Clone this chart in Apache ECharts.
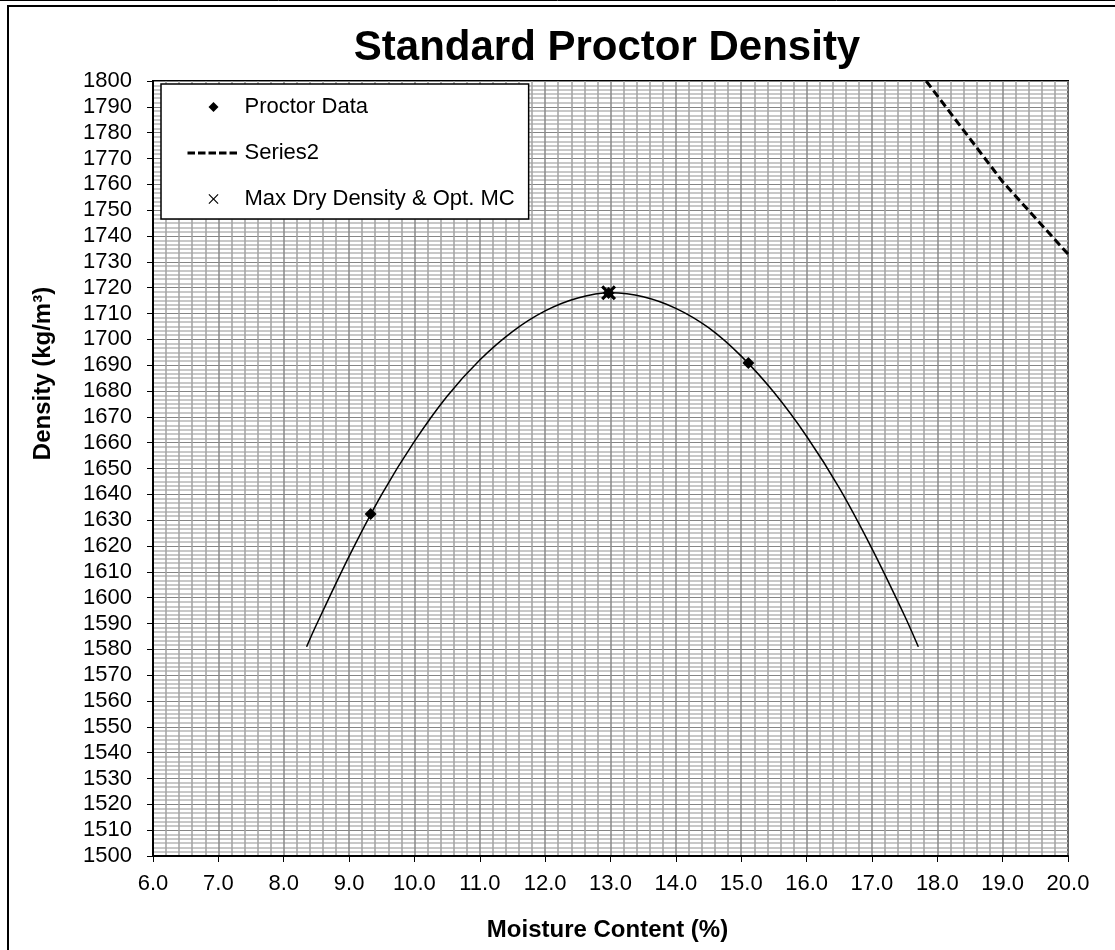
<!DOCTYPE html>
<html><head><meta charset="utf-8">
<script src="https://cdn.jsdelivr.net/npm/echarts@6/dist/echarts.min.js"></script>
<style>html,body{margin:0;padding:0;background:#fff}#c{width:1115px;height:950px}</style>
</head><body><div id="c"></div>
<script>
// ---- data ----
const proctorMC = [9.33, 12.97, 15.11];
const proctorDensity = [1632.4, 1717.9, 1690.8];

const curveMC = [8.35, 8.5, 9.0, 9.5, 10.0, 10.5, 11.0, 11.5, 12.0, 12.5, 13.0, 13.5, 14.0, 14.5, 15.0, 15.5, 16.0, 16.5, 17.0, 17.5, 17.71];
const curveDensity = [1581, 1589.5, 1616, 1640, 1660.5, 1678, 1692, 1703, 1711, 1716, 1718, 1716.5, 1712, 1704.5, 1693.5, 1679.5, 1662.5, 1642.5, 1619, 1593, 1581];

const series2MC = [17.83, 19.0, 20.0];
const series2Density = [1800, 1761, 1733];

const maxMC = [12.97];
const maxDensity = [1718.0];

const xTickMin = 6.0, xTickMax = 20.0, xTickStep = 1.0;
const yTickMin = 1500, yTickMax = 1800, yTickStep = 10;

const titleText = 'Standard Proctor Density';
const xTitle = 'Moisture Content (%)';
const yTitle = 'Density (kg/m\u00b3)';
const legendNames = ['Proctor Data', 'Series2', 'Max Dry Density & Opt. MC'];

// ---- build ----
const zip = (a, b) => a.map((v, i) => [v, b[i]]);
const FONT = '"Liberation Sans", Arial, Helvetica, sans-serif';
const diamondPath = 'path://M5,0 L10,5 L5,10 L0,5 Z';
const crossPath = 'path://M0,1.5 L1.5,0 L5,3.5 L8.5,0 L10,1.5 L6.5,5 L10,8.5 L8.5,10 L5,6.5 L1.5,10 L0,8.5 L3.5,5 Z';
const thinCrossPath = 'path://M0,0.8 L0.8,0 L5,4.2 L9.2,0 L10,0.8 L5.8,5 L10,9.2 L9.2,10 L5,5.8 L0.8,10 L0,9.2 L4.2,5 Z';

const chart = echarts.init(document.getElementById('c'), null, {renderer: 'canvas'});
chart.setOption({
  animation: false,
  backgroundColor: '#fff',
  textStyle: {fontFamily: FONT},
  title: {
    text: titleText,
    left: 602, top: 22, textAlign: 'center',
    textStyle: {fontFamily: FONT, fontSize: 42, fontWeight: 'bold', color: '#000'}
  },
  grid: {left: 153, right: 47, top: 81, bottom: 94, show: true, borderColor: '#000', borderWidth: 2, backgroundColor: '#fff'},
  legend: {
    data: [
      {name: legendNames[0]},
      {name: legendNames[1], itemStyle: {opacity: 0, color: 'rgba(0,0,0,0)', borderWidth: 0}, lineStyle: {type: [7.5, 3], width: 3, color: '#000'}},
      {name: legendNames[2], icon: thinCrossPath}
    ],
    orient: 'vertical', left: 161, top: 84,
    backgroundColor: '#fff', borderColor: '#000', borderWidth: 1.5, borderRadius: 0,
    padding: [12, 14, 9, 25],
    itemWidth: 52, itemHeight: 10, itemGap: 24,
    symbolKeepAspect: true,
    selectedMode: false,
    textStyle: {fontFamily: FONT, fontSize: 22, color: '#000'}
  },
  xAxis: {
    type: 'value', min: xTickMin, max: xTickMax, interval: xTickStep,
    name: xTitle, nameLocation: 'middle', nameGap: 62,
    nameTextStyle: {fontFamily: FONT, fontSize: 24, fontWeight: 'bold', color: '#000', padding: [0, 6, 0, 0]},
    axisLine: {onZero: false, lineStyle: {color: '#000', width: 2}},
    axisTick: {show: true, inside: false, length: 6, lineStyle: {color: '#000', width: 1}},
    axisLabel: {margin: 17, fontFamily: FONT, fontSize: 22, color: '#000', formatter: v => v.toFixed(1)},
    splitLine: {show: true, lineStyle: {color: '#8a8a8a', width: 1.5}},
    minorTick: {show: false, splitNumber: 5},
    minorSplitLine: {show: true, lineStyle: {color: '#a3a3a3', width: 1.5}}
  },
  yAxis: {
    type: 'value', min: yTickMin, max: yTickMax, interval: yTickStep,
    name: yTitle, nameLocation: 'middle', nameGap: 98, nameRotate: 90,
    nameTextStyle: {fontFamily: FONT, fontSize: 24, fontWeight: 'bold', color: '#000', padding: [0, 0, 0, 190]},
    axisLine: {onZero: false, lineStyle: {color: '#000', width: 2}},
    axisTick: {show: true, inside: false, length: 6, lineStyle: {color: '#000', width: 1}},
    axisLabel: {margin: 21, fontFamily: FONT, fontSize: 22, color: '#000', formatter: v => String(v)},
    splitLine: {show: true, lineStyle: {color: '#858585', width: 1}},
    minorTick: {show: false, splitNumber: 6},
    minorSplitLine: {show: true, lineStyle: {color: '#c8c8c8', width: 2}}
  },
  series: [
    {
      name: 'Trend', type: 'line', data: zip(curveMC, curveDensity),
      smooth: 0.3, symbol: 'none', silent: true, z: 2,
      lineStyle: {color: '#000', width: 1.5}
    },
    {
      name: 'Proctor Data', type: 'scatter', data: zip(proctorMC, proctorDensity),
      symbol: diamondPath, symbolSize: 12, symbolKeepAspect: true, z: 3,
      itemStyle: {color: '#000', opacity: 1}
    },
    {
      name: 'Series2', type: 'line', data: zip(series2MC, series2Density),
      symbol: 'none', z: 3, clip: true,
      lineStyle: {color: '#000', width: 3, type: [8, 4]},
      itemStyle: {color: '#000'}
    },
    {
      name: 'Max Dry Density & Opt. MC', type: 'scatter', data: zip(maxMC, maxDensity),
      symbol: crossPath, symbolSize: 15, symbolKeepAspect: true, z: 4,
      itemStyle: {color: '#000', opacity: 1}
    }
  ],
  graphic: [
    {type: 'line', silent: true, z: 100, shape: {x1: 0, y1: 0.5, x2: 1115, y2: 0.5}, style: {stroke: '#000', lineWidth: 1}},
    {type: 'rect', silent: true, z: 100, shape: {x: 8, y: 6, width: 1300, height: 1100}, style: {fill: 'none', stroke: '#000', lineWidth: 2}}
  ]
});
</script>
</body></html>
